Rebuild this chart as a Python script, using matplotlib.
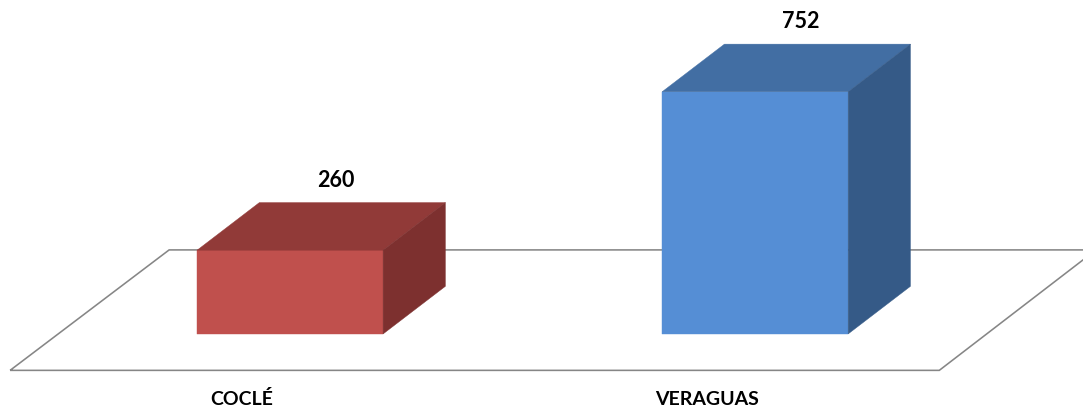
import matplotlib
matplotlib.use('Agg')
import matplotlib.pyplot as plt
from matplotlib.patches import Polygon

# datos
categorias = ['COCLÉ', 'VERAGUAS']
valores = [260, 752]
color_frente = ['#C0504D', '#558ED5']
color_arriba = ['#913A38', '#426EA3']
color_lado = ['#7D302F', '#355A87']

ancho = 0.4
fondo_x = 0.134
fondo_y = 148

plt.rcParams['font.family'] = ['Lato', 'DejaVu Sans']

fig = plt.figure(figsize=(10.83, 4.09), dpi=100)
ax = fig.add_axes([0, 0, 1, 1])
ax.set_xlim(-0.6237, 1.705)
ax.set_ylim(-233, 1037)
ax.axis('off')

# piso del grafico
piso = [(-0.602, -113), (1.396, -113), (1.733, 261), (-0.26, 261)]
ax.add_patch(Polygon(piso, closed=True, fill=False, edgecolor='#868686', linewidth=1.15))

for i, v in enumerate(valores):
    x0 = i - ancho / 2
    x1 = i + ancho / 2
    # cara de frente
    ax.add_patch(Polygon([(x0, 0), (x1, 0), (x1, v), (x0, v)],
                         facecolor=color_frente[i], edgecolor=color_frente[i], linewidth=0.3, zorder=3))
    # cara de arriba
    ax.add_patch(Polygon([(x0, v), (x1, v), (x1 + fondo_x, v + fondo_y), (x0 + fondo_x, v + fondo_y)],
                         facecolor=color_arriba[i], edgecolor=color_arriba[i], linewidth=0.3, zorder=3))
    # cara del lado
    ax.add_patch(Polygon([(x1, 0), (x1 + fondo_x, fondo_y), (x1 + fondo_x, v + fondo_y), (x1, v)],
                         facecolor=color_lado[i], edgecolor=color_lado[i], linewidth=0.3, zorder=3))

    # etiqueta del valor
    ax.annotate(str(v), xy=(i, v), xytext=(33, 50.5), textcoords='offset points',
                ha='center', va='center', fontsize=15.5, fontweight='bold', color='black')
    # etiqueta de categoria
    ax.annotate(categorias[i], xy=(i, 0), xytext=(-34.5, -47), textcoords='offset points',
                ha='center', va='center', fontsize=14, fontweight='bold', color='black')

fig.savefig('out.png', dpi=100)
